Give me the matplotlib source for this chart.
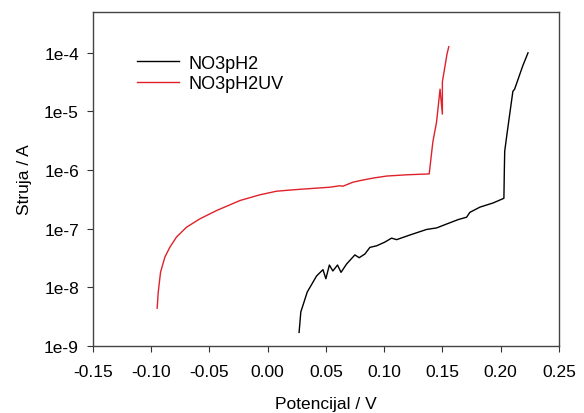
import numpy as np
import matplotlib.pyplot as plt
from matplotlib.ticker import FixedLocator, FixedFormatter, NullLocator

plt.rcParams['font.family'] = ['Liberation Sans', 'DejaVu Sans']

# NO3pH2 (black)
pot_dark = [0.027, 0.0285, 0.034, 0.042, 0.0475, 0.050, 0.053, 0.056, 0.060, 0.063,
            0.0678, 0.0749, 0.0786, 0.0835, 0.0878, 0.0935, 0.1006, 0.1064, 0.1107,
            0.1221, 0.1364, 0.145, 0.1536, 0.1636, 0.1708, 0.1736, 0.1822, 0.1936,
            0.2028, 0.2032, 0.2035, 0.2055, 0.2105, 0.212, 0.219, 0.2235]
cur_dark = [1.7e-9, 3.8e-9, 8.3e-9, 1.56e-8, 2.0e-8, 1.4e-8, 2.4e-8, 1.9e-8, 2.4e-8, 1.8e-8,
            2.5e-8, 3.57e-8, 3.2e-8, 3.7e-8, 4.8e-8, 5.1e-8, 5.9e-8, 6.9e-8, 6.5e-8,
            7.8e-8, 9.7e-8, 1.03e-7, 1.2e-7, 1.43e-7, 1.57e-7, 1.9e-7, 2.33e-7, 2.75e-7,
            3.3e-7, 1.05e-6, 2.1e-6, 4.2e-6, 2.2e-5, 2.4e-5, 6.0e-5, 1.0e-4]

# NO3pH2UV (red)
pot_uv = [-0.0948, -0.0939, -0.0919, -0.0882, -0.0839, -0.0782, -0.0696, -0.0582,
          -0.0438, -0.0238, -0.0067, 0.0077, 0.0248, 0.0535, 0.062, 0.0646, 0.0732,
          0.0792, 0.0906, 0.1021, 0.1193, 0.1387, 0.1418, 0.145, 0.148, 0.150, 0.150,
          0.154, 0.1555]
cur_uv = [4.4e-9, 8.2e-9, 1.81e-8, 3.27e-8, 4.83e-8, 7.2e-8, 1.06e-7, 1.47e-7,
          2.04e-7, 3.02e-7, 3.78e-7, 4.36e-7, 4.65e-7, 5.1e-7, 5.4e-7, 5.3e-7, 6.2e-7,
          6.6e-7, 7.3e-7, 7.9e-7, 8.3e-7, 8.6e-7, 3.0e-6, 6.6e-6, 2.4e-5, 9.0e-6,
          3.2e-5, 9.6e-5, 1.27e-4]

yticks = [1e-9, 1e-8, 1e-7, 1e-6, 1e-5, 1e-4]
ytick_labels = ['1e-9', '1e-8', '1e-7', '1e-6', '1e-5', '1e-4']
xticks = [-0.15, -0.10, -0.05, 0.00, 0.05, 0.10, 0.15, 0.20, 0.25]

fig = plt.figure(figsize=(5.84, 4.14), dpi=100)
ax = fig.add_axes([0.159, 0.162, 0.798, 0.807])

ax.plot(pot_dark, cur_dark, color='black', lw=1.0, label='NO3pH2')
ax.plot(pot_uv, cur_uv, color='#e0202a', lw=1.0, label='NO3pH2UV')

ax.set_yscale('log')
ax.set_xlim(-0.15, 0.25)
ax.set_ylim(1e-9, 5e-4)
ax.yaxis.set_major_locator(FixedLocator(yticks))
ax.yaxis.set_major_formatter(FixedFormatter(ytick_labels))
ax.yaxis.set_minor_locator(NullLocator())
ax.set_xticks(xticks)
ax.set_xticklabels([f'{v:.2f}' for v in xticks])

ax.tick_params(labelsize=12.5, length=4, width=0.8, color='#333333', pad=6)
ax.tick_params(axis='x', pad=9)
for s in ax.spines.values():
    s.set_color('#444444')
    s.set_linewidth(1.0)

ax.set_xlabel('Potencijal / V', fontsize=12.5, labelpad=12)
ax.set_ylabel('Struja / A', fontsize=12.5, labelpad=9)

ax.legend(loc='upper left', bbox_to_anchor=(0.06, 0.92), frameon=False,
          fontsize=13, handlelength=2.3, handletextpad=0.55, labelspacing=0.2)

plt.savefig('out.png', dpi=100)
